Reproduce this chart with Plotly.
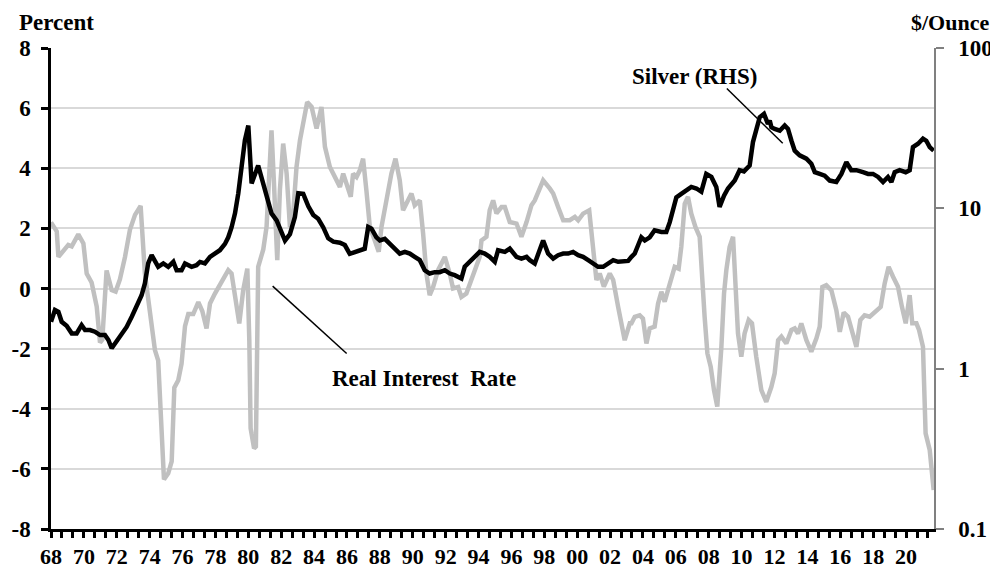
import plotly.graph_objects as go

# Real interest rate (percent, left axis)
rate_years = [1968.0, 1968.35, 1968.45, 1968.85, 1969.05, 1969.26, 1969.66, 1969.97, 1970.17, 1970.47,
              1970.78, 1970.98, 1971.12, 1971.38, 1971.69, 1971.93, 1972.19, 1972.5, 1972.8, 1973.11,
              1973.45, 1973.71, 1974.02, 1974.32, 1974.52, 1974.73, 1974.87, 1975.13, 1975.34, 1975.5,
              1975.74, 1975.94, 1976.15, 1976.35, 1976.65, 1976.96, 1977.2, 1977.46, 1977.67, 1977.97,
              1978.27, 1978.58, 1978.78, 1978.98, 1979.19, 1979.45, 1979.69, 1979.94, 1980.06, 1980.14,
              1980.35, 1980.46, 1980.6, 1980.71, 1980.91, 1981.11, 1981.27, 1981.41, 1981.56, 1981.68,
              1981.76, 1981.92, 1982.12, 1982.33, 1982.53, 1982.69, 1982.93, 1983.14, 1983.34, 1983.58,
              1983.85, 1984.15, 1984.45, 1984.66, 1984.96, 1985.37, 1985.57, 1985.77, 1985.97, 1986.23,
              1986.37, 1986.58, 1986.78, 1986.98, 1987.18, 1987.39, 1987.69, 1987.93, 1988.1, 1988.4,
              1988.7, 1988.95, 1989.21, 1989.41, 1989.62, 1989.92, 1990.12, 1990.43, 1990.63, 1990.83,
              1991.03, 1991.24, 1991.54, 1991.95, 1992.25, 1992.45, 1992.76, 1992.96, 1993.26, 1993.47,
              1993.77, 1994.07, 1994.18, 1994.48, 1994.68, 1994.89, 1995.09, 1995.4, 1995.6, 1995.9,
              1996.31, 1996.61, 1996.92, 1997.22, 1997.42, 1997.93, 1998.34, 1998.54, 1998.84, 1999.15,
              1999.55, 1999.86, 2000.06, 2000.36, 2000.73, 2000.93, 2001.17, 2001.37, 2001.62, 2001.98,
              2002.19, 2002.49, 2002.89, 2003.2, 2003.3, 2003.5, 2003.8, 2004.0, 2004.21, 2004.41,
              2004.71, 2004.92, 2005.12, 2005.32, 2005.52, 2005.73, 2005.93, 2006.17, 2006.33, 2006.54,
              2006.74, 2006.94, 2007.19, 2007.45, 2007.59, 2007.75, 2007.92, 2008.12, 2008.32, 2008.52,
              2008.77, 2008.93, 2009.07, 2009.27, 2009.48, 2009.62, 2009.78, 2009.98, 2010.18, 2010.43,
              2010.63, 2010.89, 2011.2, 2011.5, 2011.81, 2012.01, 2012.22, 2012.42, 2012.72, 2013.03,
              2013.23, 2013.43, 2013.63, 2013.94, 2014.24, 2014.55, 2014.75, 2014.91, 2015.15, 2015.46,
              2015.76, 2015.97, 2016.21, 2016.47, 2016.74, 2016.98, 2017.22, 2017.48, 2017.79, 2018.15,
              2018.46, 2018.7, 2018.94, 2019.21, 2019.51, 2019.75, 2019.98, 2020.22, 2020.38, 2020.63,
              2020.79, 2021.03, 2021.19, 2021.44, 2021.68]
rate_values = [2.2, 1.9, 1.05, 1.3, 1.45, 1.4, 1.8, 1.5, 0.5, 0.2,
               -0.6, -1.8, -1.7, 0.6, -0.05, -0.1, 0.3, 1.05, 1.95, 2.45,
               2.75, 0.5, -0.95, -2.05, -2.4, -4.5, -6.35, -6.15, -5.75, -3.3,
               -3.05, -2.5, -1.25, -0.85, -0.85, -0.45, -0.75, -1.33, -0.5, -0.17,
               0.1, 0.45, 0.61, 0.5, -0.17, -1.16, -0.05, 0.66, -1.72, -4.65,
               -5.32, -5.26, 0.72, 0.9, 1.3, 2.05, 3.6, 5.26, 3.5, 1.38,
               0.94, 3.27, 4.82, 3.82, 2.05, 2.21, 4.04, 4.93, 5.6, 6.2,
               6.04, 5.32, 6.04, 4.71, 4.04, 3.6, 3.38, 3.82, 3.5, 3.05,
               3.82, 3.71, 3.93, 4.32, 3.27, 2.05, 1.6, 1.22, 2.05, 3.05,
               3.82, 4.32, 3.6, 2.6, 2.82, 3.16, 2.77, 2.93, 1.83, 0.5,
               -0.22, 0.05, 0.61, 1.05, 0.5, 0.0, 0.05, -0.28, -0.17, 0.17,
               0.61, 1.05, 1.6, 1.72, 2.6, 2.93, 2.5, 2.71, 2.71, 2.21,
               2.16, 1.72, 2.21, 2.77, 2.93, 3.6, 3.32, 3.16, 2.71, 2.27,
               2.27, 2.38, 2.27, 2.49, 2.6, 1.6, 0.28, 0.5, 0.06, 0.5,
               0.28, -0.61, -1.72, -1.16, -1.16, -0.94, -0.89, -1.0, -1.83, -1.33,
               -1.27, -0.5, -0.11, -0.44, -0.06, 0.28, 0.72, 0.66, 1.38, 2.82,
               3.05, 2.49, 2.05, 1.72, 0.28, -0.94, -2.16, -2.6, -3.38, -3.93,
               -1.94, -0.17, 0.61, 1.38, 1.72, 0.28, -1.5, -2.27, -1.5, -1.05,
               -1.16, -2.27, -3.38, -3.77, -3.27, -2.82, -1.72, -1.6, -1.83, -1.38,
               -1.33, -1.5, -1.16, -1.72, -2.1, -1.66, -1.27, 0.05, 0.11, -0.06,
               -0.72, -1.44, -0.8, -0.94, -1.5, -1.94, -1.05, -0.89, -0.94, -0.78,
               -0.61, 0.17, 0.72, 0.39, 0.06, -0.61, -1.16, -0.22, -1.16, -1.16,
               -1.38, -1.94, -4.82, -5.37, -6.7]

# Silver price ($/ounce, right log axis)
silver_years = [1968.0, 1968.24, 1968.45, 1968.65, 1968.95, 1969.26, 1969.56, 1969.86, 1970.07, 1970.37,
                1970.67, 1970.98, 1971.28, 1971.49, 1971.69, 1971.99, 1972.3, 1972.6, 1972.91, 1973.21,
                1973.51, 1973.71, 1973.91, 1974.12, 1974.32, 1974.52, 1974.83, 1975.13, 1975.44, 1975.64,
                1975.94, 1976.15, 1976.55, 1976.85, 1977.06, 1977.36, 1977.67, 1977.97, 1978.27, 1978.58,
                1978.78, 1978.98, 1979.19, 1979.39, 1979.59, 1979.79, 1980.0, 1980.2, 1980.6, 1981.01,
                1981.41, 1981.72, 1981.92, 1982.23, 1982.53, 1982.83, 1983.04, 1983.34, 1983.65, 1983.95,
                1984.25, 1984.56, 1984.86, 1985.17, 1985.57, 1985.87, 1986.17, 1986.48, 1986.78, 1987.08,
                1987.29, 1987.49, 1987.79, 1988.0, 1988.3, 1988.6, 1988.91, 1989.21, 1989.52, 1989.82,
                1990.12, 1990.43, 1990.73, 1991.03, 1991.34, 1991.64, 1991.95, 1992.25, 1992.55, 1992.96,
                1993.16, 1993.47, 1993.77, 1994.07, 1994.38, 1994.68, 1994.99, 1995.19, 1995.6, 1995.9,
                1996.31, 1996.61, 1996.92, 1997.12, 1997.42, 1997.63, 1997.93, 1998.23, 1998.54, 1998.84,
                1999.15, 1999.45, 1999.75, 2000.06, 2000.36, 2000.67, 2000.97, 2001.27, 2001.58, 2001.88,
                2002.19, 2002.49, 2002.79, 2003.1, 2003.3, 2003.5, 2003.9, 2004.11, 2004.41, 2004.71,
                2005.12, 2005.42, 2005.63, 2006.03, 2006.33, 2006.64, 2006.94, 2007.25, 2007.55, 2007.85,
                2008.16, 2008.46, 2008.66, 2008.93, 2009.17, 2009.58, 2009.88, 2010.14, 2010.49, 2010.69,
                2010.89, 2011.1, 2011.36, 2011.6, 2011.71, 2011.81, 2012.01, 2012.32, 2012.62, 2012.82,
                2013.03, 2013.23, 2013.53, 2013.94, 2014.24, 2014.45, 2014.75, 2015.05, 2015.36, 2015.76,
                2016.07, 2016.37, 2016.67, 2016.98, 2017.38, 2017.69, 2017.99, 2018.3, 2018.6, 2018.9,
                2019.11, 2019.31, 2019.61, 2019.98, 2020.22, 2020.42, 2020.73, 2021.03, 2021.23, 2021.44,
                2021.68]
silver_values = [1.96, 2.32, 2.26, 1.96, 1.85, 1.66, 1.66, 1.87, 1.74, 1.74,
                 1.70, 1.62, 1.62, 1.51, 1.34, 1.47, 1.62, 1.82, 2.11, 2.43,
                 2.87, 3.4, 4.53, 5.1, 4.64, 4.32, 4.53, 4.32, 4.64, 4.11,
                 4.11, 4.53, 4.32, 4.42, 4.63, 4.53, 4.98, 5.22, 5.48, 6.0,
                 6.6, 7.6, 9.3, 12.4, 18.1, 26.5, 32.8, 14.3, 18.5, 12.9,
                 9.3, 8.4, 7.5, 6.3, 6.9, 8.8, 12.4, 12.3, 10.3, 9.1,
                 8.6, 7.6, 6.5, 6.2, 6.1, 5.9, 5.2, 5.35, 5.48, 5.6,
                 7.66, 7.47, 6.6, 6.3, 6.45, 6.03, 5.61, 5.22, 5.35, 5.22,
                 4.98, 4.75, 4.11, 3.92, 4.0, 4.0, 4.11, 3.92, 3.83, 3.65,
                 4.32, 4.64, 4.98, 5.35, 5.22, 4.98, 4.64, 5.48, 5.35, 5.61,
                 4.98, 4.86, 4.98, 4.75, 4.53, 5.22, 6.3, 5.22, 4.86, 5.1,
                 5.22, 5.22, 5.35, 5.1, 4.98, 4.75, 4.53, 4.32, 4.32, 4.53,
                 4.75, 4.64, 4.64, 4.70, 4.98, 5.22, 6.6, 6.3, 6.6, 7.3,
                 7.13, 7.13, 8.2, 11.7, 12.3, 12.9, 13.6, 13.3, 12.7, 16.4,
                 15.7, 13.6, 10.2, 12.0, 13.3, 14.9, 17.3, 17.0, 18.5, 25.9,
                 31.3, 37.0, 38.8, 33.6, 35.3, 32.1, 31.3, 30.5, 32.9, 31.3,
                 26.4, 22.9, 21.4, 20.4, 19.0, 16.8, 16.4, 16.0, 14.9, 14.6,
                 16.4, 19.4, 17.3, 17.3, 16.8, 16.4, 16.4, 15.7, 14.6, 15.7,
                 14.6, 16.8, 17.3, 16.8, 17.3, 24.1, 25.3, 27.2, 26.4, 24.1,
                 22.9]

x_label_years = [1968, 1970, 1972, 1974, 1976, 1978, 1980, 1982, 1984, 1986, 1988, 1990, 1992, 1994,
                 1996, 1998, 2000, 2002, 2004, 2006, 2008, 2010, 2012, 2014, 2016, 2018, 2020]
x_tick_labels = ["68", "70", "72", "74", "76", "78", "80", "82", "84", "86", "88", "90", "92", "94",
                 "96", "98", "00", "02", "04", "06", "08", "10", "12", "14", "16", "18", "20"]
left_ticks = [-8, -6, -4, -2, 0, 2, 4, 6, 8]
left_tick_labels = ["-8", "-6", "-4", "-2", "0", "2", "4", "6", "8"]
right_tick_vals = [0.1, 1, 10, 100]
right_tick_labels = ["0.1", "1", "10", "100"]

# axis tick marks every 8 months, labels every 2 years
tick_pos, tick_txt = [], []
for k in range(81):
    t = 1968 + k * 2 / 3
    tick_pos.append(t)
    tick_txt.append(x_tick_labels[k // 3] if k % 3 == 0 and k // 3 < len(x_tick_labels) else "")

FONT = "Liberation Serif, Times New Roman, serif"
tfont = dict(family=FONT, size=23, color="black", weight="bold")
xfont = dict(family=FONT, size=22, color="black", weight="bold")
rfont = dict(family=FONT, size=22, color="black", weight="bold")

fig = go.Figure()
fig.add_trace(go.Scatter(x=rate_years, y=rate_values, mode="lines",
                         line=dict(color="#c0c0c0", width=4.5), yaxis="y", showlegend=False))
fig.add_trace(go.Scatter(x=silver_years, y=silver_values, mode="lines",
                         line=dict(color="black", width=4.5), yaxis="y2", showlegend=False))

# The page body has an 8px default margin, so the figure is sized/offset to compensate.
fig.update_layout(
    width=990, height=563,
    margin=dict(l=43, r=64, t=40, b=42),
    plot_bgcolor="white", paper_bgcolor="white",
    xaxis=dict(range=[1968, 2021.7], tickmode="array", tickvals=tick_pos, ticktext=tick_txt,
               ticks="outside", ticklen=6, tickwidth=2.5, tickcolor="black",
               showline=True, linecolor="black", linewidth=2.5, showgrid=False, zeroline=False,
               tickfont=xfont, automargin=False, ticklabelstandoff=0),
    yaxis=dict(range=[-8, 8], tickmode="array", tickvals=left_ticks, ticktext=left_tick_labels,
               ticks="outside", ticklen=7, tickwidth=2.5, tickcolor="black",
               showline=True, linecolor="black", linewidth=2.5,
               showgrid=True, gridcolor="#d9d9d9", gridwidth=1.5, zeroline=False,
               tickfont=tfont, ticklabelstandoff=6, automargin=False),
    yaxis2=dict(overlaying="y", side="right", type="log", range=[-1, 2],
                tickmode="array", tickvals=right_tick_vals, ticktext=right_tick_labels,
                ticks="outside", ticklen=8, tickwidth=1.5, tickcolor="#808080",
                showline=True, linecolor="#808080", linewidth=1.5,
                showgrid=False, zeroline=False, tickfont=tfont, ticklabelstandoff=10,
                automargin=False),
)

fig.add_annotation(text="Percent", xref="paper", yref="paper", x=-0.0385, y=1.052,
                   xanchor="left", yanchor="middle", showarrow=False, font=tfont)
fig.add_annotation(text="$/Ounce", xref="paper", yref="paper", x=1.0181, y=1.054,
                   xanchor="center", yanchor="middle", showarrow=False, font=rfont)
fig.add_annotation(text="Silver (RHS)", xref="x", yref="y", x=2007.15, y=7.05,
                   xanchor="center", yanchor="middle", showarrow=False, font=tfont)
fig.add_annotation(text="Real Interest  Rate", xref="x", yref="y", x=1990.67, y=-3.01,
                   xanchor="center", yanchor="middle", showarrow=False, font=tfont)
fig.add_shape(type="line", xref="x", yref="y", x0=2009.1, y0=6.65, x1=2012.5, y1=4.83,
              line=dict(color="black", width=1.5))
fig.add_shape(type="line", xref="x", yref="y", x0=1981.48, y0=0.08, x1=1985.98, y1=-2.16,
              line=dict(color="black", width=1.5))

fig.write_html("out.html")
